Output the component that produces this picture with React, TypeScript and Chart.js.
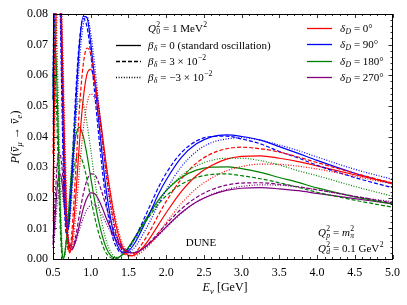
import React, { useEffect, useRef } from "react";
import { Chart, registerables } from "chart.js";
Chart.register(...registerables);

// Neutrino energy grid (GeV)
const energies = [0.5, 0.52, 0.54, 0.56, 0.58, 0.6, 0.62, 0.64, 0.66, 0.68, 0.7, 0.72, 0.75, 0.8, 0.85, 0.9, 0.95, 1.0, 1.05, 1.1, 1.15, 1.2, 1.25, 1.3, 1.35, 1.4, 1.45, 1.5, 1.55, 1.6, 1.7, 1.8, 1.9, 2.0, 2.2, 2.4, 2.6, 2.8, 3.0, 3.25, 3.5, 3.75, 4.0, 4.5, 5.0];

// delta_D = 0 deg (red)
const redSolid = [0.0218, 0.0516, 0.0792, 0.0962, 0.0996, 0.0901, 0.072, 0.0504, 0.0301, 0.0145, 0.005, 0.002, 0.0052, 0.0198, 0.0378, 0.0521, 0.0603, 0.0619, 0.0581, 0.0507, 0.0416, 0.0318, 0.023, 0.0155, 0.0094, 0.0053, 0.0025, 0.0012, 0.0011, 0.0016, 0.004, 0.0074, 0.0113, 0.0151, 0.022, 0.0272, 0.0305, 0.0326, 0.0335, 0.0337, 0.0329, 0.0318, 0.0304, 0.0275, 0.0248];
const redDashed = [0.0344, 0.0672, 0.093, 0.1045, 0.101, 0.0857, 0.0642, 0.0419, 0.0226, 0.0095, 0.0029, 0.0024, 0.0087, 0.0283, 0.0492, 0.0633, 0.0689, 0.067, 0.0598, 0.05, 0.0394, 0.029, 0.02, 0.0128, 0.0073, 0.0036, 0.0016, 0.001, 0.0014, 0.0023, 0.0057, 0.0098, 0.0145, 0.0188, 0.0261, 0.0313, 0.0344, 0.036, 0.0365, 0.036, 0.0349, 0.0333, 0.0315, 0.028, 0.0248];
const redDotted = [0.0124, 0.0374, 0.065, 0.0854, 0.0946, 0.0916, 0.0778, 0.0585, 0.0382, 0.0209, 0.0088, 0.0028, 0.0032, 0.0138, 0.0288, 0.042, 0.0506, 0.0539, 0.0525, 0.0473, 0.04, 0.0316, 0.0238, 0.0167, 0.0111, 0.0065, 0.0036, 0.0017, 0.001, 0.0012, 0.0027, 0.0053, 0.0086, 0.0119, 0.0181, 0.023, 0.0264, 0.0288, 0.0302, 0.031, 0.0309, 0.0303, 0.0294, 0.027, 0.0245];

// delta_D = 90 deg (blue)
const blueSolid = [0.052, 0.0896, 0.1146, 0.1195, 0.107, 0.0845, 0.0584, 0.0349, 0.0184, 0.0101, 0.0095, 0.0137, 0.0254, 0.0497, 0.0695, 0.0792, 0.0788, 0.0705, 0.059, 0.0465, 0.0345, 0.0235, 0.0152, 0.0087, 0.0047, 0.0025, 0.002, 0.0026, 0.004, 0.0059, 0.0107, 0.0159, 0.0213, 0.0258, 0.0331, 0.0376, 0.0399, 0.0405, 0.04, 0.0388, 0.0367, 0.0345, 0.0322, 0.028, 0.0245];
const blueDashed = [0.0594, 0.0965, 0.1174, 0.1177, 0.101, 0.0754, 0.0482, 0.0261, 0.0124, 0.008, 0.0102, 0.0161, 0.0294, 0.0535, 0.0713, 0.0785, 0.0759, 0.067, 0.0547, 0.0418, 0.0299, 0.0196, 0.0117, 0.0063, 0.0035, 0.002, 0.0023, 0.0034, 0.0053, 0.0075, 0.0128, 0.0182, 0.0235, 0.028, 0.0347, 0.0385, 0.04, 0.0401, 0.0392, 0.0376, 0.0351, 0.033, 0.0306, 0.0266, 0.0233];
const blueDotted = [0.044, 0.0826, 0.1105, 0.12, 0.1121, 0.0925, 0.0676, 0.0437, 0.025, 0.0133, 0.01, 0.012, 0.021, 0.0435, 0.0642, 0.0765, 0.0791, 0.0738, 0.0639, 0.052, 0.0399, 0.0284, 0.0192, 0.0117, 0.0066, 0.0035, 0.0022, 0.0021, 0.003, 0.0043, 0.0084, 0.013, 0.018, 0.0225, 0.0301, 0.0351, 0.038, 0.0392, 0.0396, 0.0388, 0.0372, 0.0354, 0.0333, 0.0293, 0.026];

// delta_D = 180 deg (green)
const greenSolid = [0.0562, 0.0695, 0.0657, 0.0499, 0.0297, 0.0126, 0.0022, 0.0001, 0.0024, 0.007, 0.0132, 0.0197, 0.0292, 0.04, 0.043, 0.0401, 0.0341, 0.0266, 0.0193, 0.0129, 0.0078, 0.004, 0.0016, 0.0005, 0.0004, 0.001, 0.0022, 0.0038, 0.0057, 0.0077, 0.0118, 0.0157, 0.0193, 0.0223, 0.0266, 0.029, 0.03, 0.0301, 0.0295, 0.0283, 0.0266, 0.025, 0.0232, 0.0203, 0.018];
const greenDashed = [0.0522, 0.06, 0.0536, 0.0386, 0.0214, 0.008, 0.0009, 0.0003, 0.0027, 0.0067, 0.0117, 0.0169, 0.0242, 0.0321, 0.0339, 0.0312, 0.0261, 0.0199, 0.014, 0.0089, 0.005, 0.0021, 0.0007, 0.0001, 0.0002, 0.001, 0.0023, 0.0038, 0.0056, 0.0074, 0.0113, 0.0147, 0.018, 0.0206, 0.0244, 0.0266, 0.0276, 0.0278, 0.0272, 0.0262, 0.0249, 0.0234, 0.0218, 0.0192, 0.0169];
const greenDotted = [0.0582, 0.0776, 0.0778, 0.0624, 0.0398, 0.0186, 0.0048, 0.0, 0.0018, 0.0065, 0.0132, 0.0208, 0.0323, 0.0466, 0.0523, 0.0506, 0.0443, 0.0357, 0.0265, 0.0183, 0.0116, 0.0064, 0.003, 0.0011, 0.0005, 0.0009, 0.0018, 0.0032, 0.005, 0.0069, 0.011, 0.0151, 0.0189, 0.0222, 0.0272, 0.0304, 0.0322, 0.0329, 0.0329, 0.0321, 0.0307, 0.0288, 0.0272, 0.0237, 0.0205];

// delta_D = 270 deg (purple)
const purpleSolid = [0.0047, 0.0108, 0.0183, 0.0244, 0.0276, 0.0276, 0.0248, 0.0203, 0.0151, 0.0104, 0.0065, 0.0041, 0.003, 0.0058, 0.0111, 0.0163, 0.0199, 0.0216, 0.0214, 0.0196, 0.0169, 0.0137, 0.0107, 0.0079, 0.0057, 0.004, 0.0029, 0.0022, 0.002, 0.0022, 0.0035, 0.0056, 0.008, 0.0105, 0.0151, 0.0186, 0.0209, 0.0224, 0.0231, 0.0233, 0.0229, 0.0223, 0.0214, 0.0197, 0.018];
const purpleDashed = [0.0067, 0.0154, 0.0248, 0.0318, 0.0349, 0.0339, 0.0297, 0.0235, 0.0169, 0.011, 0.0066, 0.0038, 0.0031, 0.0073, 0.0144, 0.0211, 0.0257, 0.0278, 0.0276, 0.0252, 0.0217, 0.0175, 0.0135, 0.0099, 0.0069, 0.0046, 0.0031, 0.0023, 0.002, 0.0022, 0.0036, 0.0059, 0.0086, 0.0114, 0.0163, 0.0201, 0.0226, 0.0241, 0.0248, 0.0249, 0.0244, 0.0236, 0.0226, 0.0205, 0.0183];
const purpleDotted = [0.0036, 0.0079, 0.0138, 0.0191, 0.0224, 0.0229, 0.0213, 0.0181, 0.0142, 0.0105, 0.0074, 0.0051, 0.004, 0.0057, 0.0095, 0.0133, 0.0161, 0.0175, 0.0177, 0.0165, 0.0144, 0.0119, 0.0095, 0.0072, 0.0053, 0.0038, 0.0028, 0.0022, 0.002, 0.0021, 0.0033, 0.0053, 0.0077, 0.0102, 0.0149, 0.0186, 0.0211, 0.0227, 0.0237, 0.0242, 0.0241, 0.0235, 0.0226, 0.0204, 0.0187];

const deltaLabels = ["0°", "90°", "180°", "270°"];
const betaLabels = ["0 (standard oscillation)", "3 × 10", "−3 × 10"];

const RED = "#ff0000";
const BLUE = "#0000ff";
const GREEN = "#008000";
const PURPLE = "#800080";
const SERIF = "'Liberation Serif', 'DejaVu Serif', serif";
const DASH = [4, 2];
const DOT = [1, 1.6];

type Seg = { t: string; i?: boolean; sub?: string; sup?: string; si?: boolean; bar?: boolean };

function font(size: number, italic?: boolean) {
  return (italic ? "italic " : "") + size + "px " + SERIF;
}

function drawRich(ctx: CanvasRenderingContext2D, x: number, y: number, segs: Seg[], size: number, align: "left" | "center" = "left") {
  const ss = size * 0.7;
  const widths = segs.map((s) => {
    ctx.font = font(size, s.i);
    const w = ctx.measureText(s.t).width;
    let sw = 0;
    if (s.sub) { ctx.font = font(ss, s.si); sw = Math.max(sw, ctx.measureText(s.sub).width); }
    if (s.sup) { ctx.font = font(ss, false); sw = Math.max(sw, ctx.measureText(s.sup).width); }
    return { w, sw: sw ? sw + 0.5 : 0 };
  });
  const total = widths.reduce((a, b) => a + b.w + b.sw, 0);
  let cx = align === "center" ? x - total / 2 : x;
  const base = y + size * 0.33;
  ctx.textAlign = "left";
  ctx.textBaseline = "alphabetic";
  ctx.fillStyle = "#000";
  segs.forEach((s, k) => {
    ctx.font = font(size, s.i);
    ctx.fillText(s.t, cx, base);
    if (s.bar) {
      ctx.save();
      ctx.strokeStyle = "#000";
      ctx.lineWidth = 0.8;
      ctx.beginPath();
      ctx.moveTo(cx + 1, base - size * 0.62);
      ctx.lineTo(cx + widths[k].w, base - size * 0.62);
      ctx.stroke();
      ctx.restore();
    }
    const sx = cx + widths[k].w + (s.i ? 0.3 : 0.5);
    if (s.sub) { ctx.font = font(ss, s.si); ctx.fillText(s.sub, sx, base + size * 0.22); }
    if (s.sup) { ctx.font = font(ss, false); ctx.fillText(s.sup, sx, base - size * 0.42); }
    cx += widths[k].w + widths[k].sw;
  });
}

const decorPlugin = {
  id: "decor",
  afterDraw(chart: any) {
    const ctx: CanvasRenderingContext2D = chart.ctx;
    const { left, right, top, bottom } = chart.chartArea;
    const xs = chart.scales.x;
    const ys = chart.scales.y;
    ctx.save();
    // frame
    ctx.strokeStyle = "#000";
    ctx.lineWidth = 1;
    ctx.setLineDash([]);
    ctx.strokeRect(Math.round(left) + 0.5, Math.round(top) + 0.5, Math.round(right - left) - 1, Math.round(bottom - top));
    // inward ticks
    ctx.lineWidth = 0.8;
    ctx.beginPath();
    for (let i = 5; i <= 50; i++) {
      const px = Math.round(xs.getPixelForValue(i / 10)) + 0.5;
      const len = i % 5 === 0 ? 4 : 2;
      ctx.moveTo(px, bottom); ctx.lineTo(px, bottom - len);
      ctx.moveTo(px, top); ctx.lineTo(px, top + len);
    }
    for (let i = 0; i <= 40; i++) {
      const py = Math.round(ys.getPixelForValue(i * 0.002)) + 0.5;
      const len = i % 5 === 0 ? 4 : 2;
      ctx.moveTo(left, py); ctx.lineTo(left + len, py);
      ctx.moveTo(right, py); ctx.lineTo(right - len, py);
    }
    ctx.stroke();

    // left legend (line styles)
    const ls = 11;
    drawRich(ctx, 148, 28, [{ t: "Q", i: true, sub: "0", sup: "2" }, { t: " = 1 MeV", sup: "2" }], ls);
    const styles = [[], DASH, DOT];
    const rowsY = [45, 61, 77];
    rowsY.forEach((ry, k) => {
      ctx.strokeStyle = "#000";
      ctx.lineWidth = 1.3;
      ctx.setLineDash(styles[k] as number[]);
      ctx.beginPath();
      ctx.moveTo(116, ry + 0.5);
      ctx.lineTo(141, ry + 0.5);
      ctx.stroke();
      ctx.setLineDash([]);
      const segs: Seg[] = [{ t: "β", i: true, sub: "δ", si: true }];
      if (k === 0) segs.push({ t: " = " + betaLabels[0] });
      else segs.push({ t: " = " + betaLabels[k], sup: "−2" });
      drawRich(ctx, 148, ry, segs, ls);
    });

    // right legend (colours)
    const cols = [RED, BLUE, GREEN, PURPLE];
    const ry2 = [28, 44, 61, 77];
    ry2.forEach((ry, k) => {
      ctx.strokeStyle = cols[k];
      ctx.lineWidth = 1.3;
      ctx.beginPath();
      ctx.moveTo(307, ry + 0.5);
      ctx.lineTo(332, ry + 0.5);
      ctx.stroke();
      drawRich(ctx, 340, ry, [{ t: "δ", i: true, sub: "D", si: true }, { t: " = " + deltaLabels[k] }], ls);
    });

    // annotations
    ctx.fillStyle = "#000";
    ctx.font = font(11);
    ctx.textAlign = "center";
    ctx.textBaseline = "middle";
    ctx.fillText("DUNE", 201, 243);
    drawRich(ctx, 318, 232, [{ t: "Q", i: true, sub: "p", si: true, sup: "2" }, { t: " = " }, { t: "m", i: true, sub: "π", si: true, sup: "2" }], ls);
    drawRich(ctx, 318, 248, [{ t: "Q", i: true, sub: "d", si: true, sup: "2" }, { t: " = 0.1 GeV", sup: "2" }], ls);

    // axis titles
    drawRich(ctx, 225, 287, [{ t: "E", i: true, sub: "ν", si: true }, { t: " [GeV]" }], 12, "center");
    ctx.save();
    ctx.translate(15, 137);
    ctx.rotate(-Math.PI / 2);
    drawRich(ctx, 0, 0, [
      { t: "P", i: true },
      { t: "(" },
      { t: "ν", i: true, bar: true, sub: "μ", si: true },
      { t: " → " },
      { t: "ν", i: true, bar: true, sub: "e", si: true },
      { t: ")" },
    ], 12, "center");
    ctx.restore();
    ctx.restore();
  },
};

export default function App() {
  const ref = useRef<HTMLCanvasElement>(null);
  useEffect(() => {
    const canvas = ref.current;
    if (!canvas) return;
    const mk = (vals: number[], color: string, dash: number[]) => ({
      data: energies.map((x, k) => ({ x, y: vals[k] })),
      borderColor: color,
      backgroundColor: color,
      borderWidth: 1.2,
      borderDash: dash,
      pointRadius: 0,
      fill: false,
      cubicInterpolationMode: "monotone" as const,
      clip: 1,
    });
    const datasets = [
      mk(redDotted, RED, DOT), mk(blueDotted, BLUE, DOT), mk(greenDotted, GREEN, DOT), mk(purpleDotted, PURPLE, DOT),
      mk(redDashed, RED, DASH), mk(blueDashed, BLUE, DASH), mk(greenDashed, GREEN, DASH), mk(purpleDashed, PURPLE, DASH),
      mk(redSolid, RED, []), mk(blueSolid, BLUE, []), mk(greenSolid, GREEN, []), mk(purpleSolid, PURPLE, []),
    ];
    const chart = new Chart(canvas, {
      type: "line",
      data: { datasets },
      options: {
        animation: false,
        responsive: false,
        devicePixelRatio: 1,
        layout: { padding: { top: 14, right: 9, left: 0, bottom: 0 } },
        plugins: { legend: { display: false }, tooltip: { enabled: false } },
        scales: {
          x: {
            type: "linear",
            min: 0.5,
            max: 5.0,
            grid: { display: false, drawTicks: false },
            border: { display: false },
            ticks: {
              stepSize: 0.5,
              padding: 7,
              color: "#000",
              font: { family: SERIF, size: 12 },
              callback: (v: any) => Number(v).toFixed(1),
            },
            afterFit: (s: any) => { s.height = 46; },
          },
          y: {
            type: "linear",
            min: 0,
            max: 0.08,
            grid: { display: false, drawTicks: false },
            border: { display: false },
            ticks: {
              stepSize: 0.01,
              padding: 5,
              color: "#000",
              font: { family: SERIF, size: 12 },
              callback: (v: any) => Number(v).toFixed(2),
            },
            afterFit: (s: any) => { s.width = 53; },
          },
        },
      },
      plugins: [decorPlugin],
    } as any);
    return () => chart.destroy();
  }, []);
  return (
    <div style={{ position: "absolute", left: 0, top: 0, width: 407, height: 305, background: "#fff" }}>
      <canvas ref={ref} width={407} height={305} style={{ display: "block" }} />
    </div>
  );
}
